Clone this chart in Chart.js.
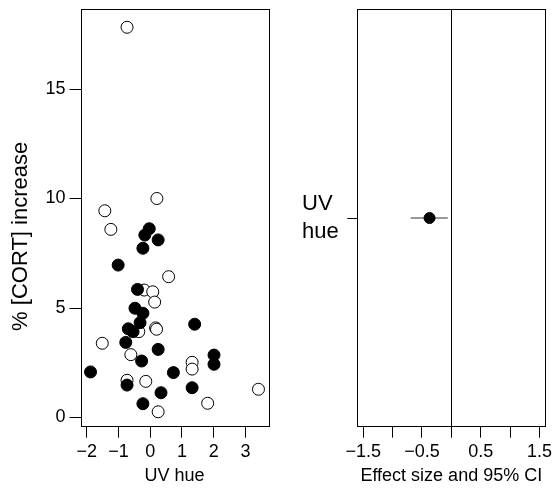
<!DOCTYPE html>
<html>
<head>
<meta charset="utf-8">
<script src="https://cdn.jsdelivr.net/npm/chart.js@4"></script>
<style>
  html, body { margin: 0; padding: 0; background: #fff; }
  #wrap { position: relative; width: 555px; height: 490px; }
  #hueChart { position: absolute; left: 0; top: 0; }
  #effectChart { position: absolute; left: 290px; top: 0; }
</style>
</head>
<body>
<div id="wrap">
  <canvas id="hueChart" width="280" height="490"></canvas>
  <canvas id="effectChart" width="265" height="490"></canvas>
</div>
<script>
// left panel: filled and open birds
var filledHue  = [-0.03, -0.17, 0.25, -0.23, -1.01, -0.40, -0.48, -0.23, -0.32, -0.69, -0.54, -0.77, 0.25, 1.40, 2.01, 2.01, -0.27, -1.88, 0.73, -0.73, 1.32, 0.34, -0.23];
var filledCort = [8.62, 8.33, 8.11, 7.73, 6.96, 5.85, 4.99, 4.76, 4.33, 4.05, 3.92, 3.43, 3.11, 4.26, 2.85, 2.43, 2.58, 2.08, 2.05, 1.48, 1.36, 1.13, 0.63];
var openHue  = [-0.73, 0.21, -1.43, -1.24, 0.58, -0.19, 0.08, 0.14, 0.17, 0.20, -0.36, -1.51, -0.61, 1.32, 1.32, -0.73, -0.14, 3.41, 1.81, 0.25];
var openCort = [17.82, 10.0, 9.44, 8.59, 6.43, 5.82, 5.74, 5.27, 4.09, 4.03, 3.92, 3.39, 2.87, 2.52, 2.21, 1.70, 1.65, 1.29, 0.65, 0.26];
var hueTicks  = [-2, -1, 0, 1, 2, 3];
var cortTicks = [0, 5, 10, 15];

// right panel: effect size with 95% CI
var predictorLabels = [['UV', 'hue']];
var effectEstimate = [-0.37];
var ciLower = [-0.69];
var ciUpper = [-0.06];
var effectTicks = [-1.5, -1, -0.5, 0, 0.5, 1, 1.5];
var effectTickLabels = ['\u22121.5', '', '\u22120.5', '', '0.5', '', '1.5'];

Chart.defaults.font.family = '"Liberation Sans", Arial, Helvetica, sans-serif';
Chart.defaults.color = '#000';

function fmt(v) {
    return (v < 0 ? '\u2212' : '') + Math.abs(v);
}

function pairs(xs, ys) {
    return xs.map(function(x, i) { return {x: x, y: ys[i]}; });
}

// fixed axis size, and no extra room reserved for end labels
function fixSize(w, h) {
    return function(s) {
        if (w) s.width = w;
        if (h) s.height = h;
        s.paddingTop = 0; s.paddingBottom = 0;
        s.paddingLeft = 0; s.paddingRight = 0;
    };
}

// draws the box round the plot region
var framePlugin = {
    id: 'frame',
    beforeDatasetsDraw: function(chart) {
        var a = chart.chartArea, ctx = chart.ctx;
        ctx.save();
        ctx.strokeStyle = '#000';
        ctx.lineWidth = 1;
        ctx.strokeRect(Math.round(a.left) + 0.5, Math.round(a.top) + 0.5,
            Math.round(a.right - a.left), Math.round(a.bottom - a.top));
        ctx.restore();
    }
};

var tickGrid = {display: true, drawOnChartArea: false, drawTicks: true, tickLength: 11, tickColor: '#000', tickWidth: 1};

new Chart(document.getElementById('hueChart').getContext('2d'), {
    type: 'scatter',
    data: {
        datasets: [{
            data: pairs(filledHue, filledCort),
            pointRadius: 6,
            pointBackgroundColor: '#000',
            pointBorderColor: '#000',
            pointBorderWidth: 1
        }, {
            data: pairs(openHue, openCort),
            pointRadius: 6,
            pointBackgroundColor: '#fff',
            pointBorderColor: '#000',
            pointBorderWidth: 1
        }]
    },
    options: {
        responsive: false,
        animation: false,
        devicePixelRatio: 1,
        layout: {padding: {left: 0, top: 9.3, right: 11.7, bottom: 0}},
        plugins: {legend: {display: false}, tooltip: {enabled: false}},
        scales: {
            x: {
                type: 'linear', min: -2.196, max: 3.72,
                afterBuildTicks: function(s) { s.ticks = hueTicks.map(function(v) { return {value: v}; }); },
                afterFit: fixSize(0, 63.3),
                ticks: {font: {size: 18}, padding: 4, maxRotation: 0, autoSkip: false, callback: fmt},
                grid: tickGrid,
                border: {display: false},
                title: {display: true, text: 'UV hue', font: {size: 18}, padding: {top: 0, bottom: 3}}
            },
            y: {
                type: 'linear', min: -0.42, max: 18.64,
                afterBuildTicks: function(s) { s.ticks = cortTicks.map(function(v) { return {value: v}; }); },
                afterFit: fixSize(80.5, 0),
                ticks: {font: {size: 18}, padding: 4, autoSkip: false, callback: fmt},
                grid: tickGrid,
                border: {display: false},
                title: {display: true, text: '% [CORT] increase\u00a0\u00a0\u00a0\u00a0\u00a0\u00a0', font: {size: 22}, padding: {top: 8, bottom: 0}}
            }
        }
    },
    plugins: [framePlugin]
});

new Chart(document.getElementById('effectChart').getContext('2d'), {
    type: 'scatter',
    data: {
        labels: predictorLabels,
        datasets: [{
            data: effectEstimate.map(function(v, i) { return {x: v, y: i}; }),
            pointRadius: 5.5,
            pointBackgroundColor: '#000',
            pointBorderColor: '#000',
            pointBorderWidth: 1
        }, {
            data: [{x: ciLower[0], y: 0}, {x: ciUpper[0], y: 0}],
            showLine: true,
            borderColor: '#333',
            borderWidth: 1,
            pointRadius: 0
        }]
    },
    options: {
        responsive: false,
        animation: false,
        devicePixelRatio: 1,
        layout: {padding: {left: 12, top: 9.3, right: 9.7, bottom: 0}},
        plugins: {legend: {display: false}, tooltip: {enabled: false}},
        scales: {
            x: {
                type: 'linear', min: -1.6, max: 1.6,
                afterBuildTicks: function(s) { s.ticks = effectTicks.map(function(v) { return {value: v}; }); },
                afterFit: fixSize(0, 63.3),
                ticks: {font: {size: 18}, padding: 4, maxRotation: 0, autoSkip: false,
                    callback: function(v, i) { return effectTickLabels[i]; }},
                grid: {
                    display: true, drawOnChartArea: true, drawTicks: true, tickLength: 11,
                    tickColor: '#000', tickWidth: 1, lineWidth: 1,
                    color: function(c) { return c.tick && c.tick.value === 0 ? '#000' : 'rgba(0,0,0,0)'; }
                },
                border: {display: false},
                title: {display: true, text: 'Effect size and 95% CI', font: {size: 18}, padding: {top: 0, bottom: 3}}
            },
            y: {
                type: 'category',
                offset: true,
                afterFit: fixSize(55.3, 0),
                ticks: {font: {size: 22, lineHeight: 1.3}, crossAlign: 'far', padding: 4},
                grid: {display: true, drawOnChartArea: false, drawTicks: true, tickLength: 10, tickColor: '#000', offset: false},
                border: {display: false}
            }
        }
    },
    plugins: [framePlugin]
});
</script>
</body>
</html>
